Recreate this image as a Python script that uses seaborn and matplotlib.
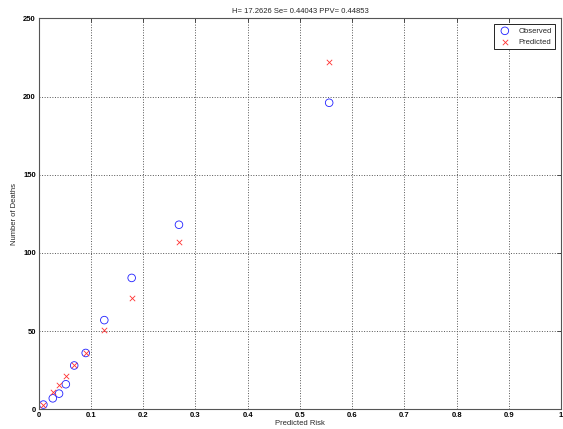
import numpy as np
import pandas as pd
import matplotlib
matplotlib.use('Agg')
import matplotlib.pyplot as plt
import seaborn as sns

# values
risk = [0.009, 0.027, 0.039, 0.052, 0.068, 0.090, 0.1256, 0.178, 0.2685, 0.556]
observed = [3, 7, 10, 16, 28, 36, 57, 84, 118, 196]
predicted = [3, 11, 15.5, 21, 28, 36, 50.5, 71, 107, 222]
title = 'H= 17.2626 Se= 0.44043 PPV= 0.44853'

sns.set_style('white')
plt.rcParams['font.family'] = ['Liberation Sans', 'DejaVu Sans']

df = pd.DataFrame({'risk': risk, 'observed': observed, 'predicted': predicted})

fig = plt.figure(figsize=(5.63, 4.29), dpi=100)
ax = fig.add_axes([0.0687, 0.046, 0.928, 0.9113])

sns.scatterplot(data=df, x='risk', y='observed', ax=ax, marker='o', s=30,
                facecolors='none', edgecolor='#2020ff', linewidth=0.6, label='Observed')
sns.scatterplot(data=df, x='risk', y='predicted', ax=ax, marker='x', s=15,
                color='#ff3030', linewidth=0.6, label='Predicted')

ax.set_xlim(0, 1)
ax.set_ylim(0, 250)
ax.set_xticks(np.arange(0, 1.01, 0.1))
ax.set_xticklabels(['0', '0.1', '0.2', '0.3', '0.4', '0.5', '0.6', '0.7', '0.8', '0.9', '1'])
ax.set_yticks(range(0, 251, 50))
ax.grid(True, linestyle=':', color='#555555', linewidth=0.7)
ax.tick_params(direction='in', length=3, width=0.6, labelsize=5.5, pad=2,
               top=True, right=True, colors='#333333', labelcolor='black')
for lbl in ax.get_xticklabels() + ax.get_yticklabels():
    lbl.set_fontweight('bold')
for s in ax.spines.values():
    s.set_color('#555555')
    s.set_linewidth(0.8)

ax.set_xlabel('Predicted Risk', fontsize=5.5, labelpad=1)
ax.set_ylabel('Number of Deaths', fontsize=5.5, labelpad=4)
ax.set_title(title, fontsize=5.5, pad=4)

leg = ax.legend(loc='upper right', fontsize=5.5, fancybox=False, framealpha=1,
                edgecolor='black', borderaxespad=0.8, handletextpad=0.8)
leg.get_frame().set_linewidth(0.6)

fig.savefig('out.png', dpi=100)
